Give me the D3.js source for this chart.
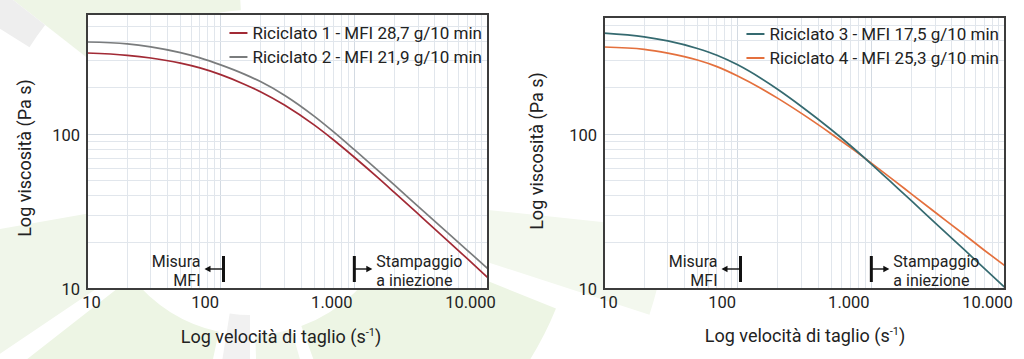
<!DOCTYPE html>
<html><head><meta charset="utf-8">
<script src="https://cdn.jsdelivr.net/npm/d3@7"></script>
<style>
html,body{margin:0;padding:0;background:#fff;}
svg{display:block;font-family:Roboto,"Liberation Sans",Arial,sans-serif;}
</style></head><body>
<svg id="c" width="1024" height="359"></svg>
<script>
// ---- data ----
const shearRates = [10,20,30,50,70,100,150,200,300,500,700,1000,1500,2000,3000,5000,7000,10000];
const riciclato1 = [335.7,324.3,311.5,288.5,268.8,243.2,211.1,188.1,154.9,115.1,91.9,71.1,52.5,42.0,30.6,20.5,15.7,11.8];
const riciclato2 = [395.4,384.6,367.8,337.3,312.2,281.4,245.2,218.5,179.2,131.2,103.7,79.6,58.5,46.9,34.2,23.05,17.8,13.5];
const riciclato3 = [448.7,424.6,399.5,357.0,322.8,279.9,228.5,194.0,150.8,107.1,84.1,64.1,46.5,37.0,26.7,17.8,13.6,10.2];
const riciclato4 = [364.8,352.4,333.0,300.6,272.6,237.2,197.0,170.0,136.0,100.6,81.7,64.9,49.7,41.0,31.3,22.3,17.8,14.1];
const seriesNames = ["Riciclato 1 - MFI 28,7 g/10 min","Riciclato 2 - MFI 21,9 g/10 min",
                     "Riciclato 3 - MFI 17,5 g/10 min","Riciclato 4 - MFI 25,3 g/10 min"];
const xTickValues = [10,100,1000,10000];
const xTickLabels = ["10","100","1.000","10.000"];
const yTickValues = [10,100];
const yTickLabels = ["10","100"];
const xDomain = [10,10000];
const mfiLimit = 105;
const injectionStart = 1000;
const xTitle = "Log velocità di taglio (s";
const xTitleSup = "-1";
const yTitle = "Log viscosità (Pa s)";

// ---- layout ----
const svg = d3.select("#c");
const labelShift = [4,-16,-23,-18];

// watermark
const wm = svg.append("g");
const arc = d3.arc();
const wedges = [
  {c:[250,185], r0:175, r1:300, a0:-52, a1:-3, f:"#eef5e6"},
  {c:[250,185], r0:260, r1:330, a0:-58, a1:-52, f:"#eeeeee"},
  {c:[250,185], r0:150, r1:330, a0:-168, a1:-128, f:"#edf5e4"},
  {c:[250,185], r0:150, r1:330, a0:-124, a1:-100, f:"#f0f6ea"},
  {c:[250,185], r0:130, r1:300, a0:-180, a1:-171, f:"#f1f1f1"},
  {c:[250,185], r0:150, r1:330, a0:112, a1:160, f:"#edf5e4"},
  {c:[250,185], r0:150, r1:330, a0:164, a1:178, f:"#f0f6ea"},
  {c:[250,185], r0:200, r1:420, a0:96, a1:108, f:"#f3f8ee"}
];
wedges.forEach(w=>{
  wm.append("path")
    .attr("transform",`translate(${w.c[0]},${w.c[1]})`)
    .attr("d",arc({innerRadius:w.r0,outerRadius:w.r1,startAngle:w.a0*Math.PI/180,endAngle:w.a1*Math.PI/180}))
    .attr("fill",w.f);
});

const panels = [
  {x0:87,x1:488,y0:14,y1:289,yMax:600,
   series:[{name:seriesNames[0],values:riciclato1,color:"#a22a35"},
           {name:seriesNames[1],values:riciclato2,color:"#7a7c7d"}],
   legY:[33,57], yTitleX:25, yTitleY:158, xTitleX:281, xTitleY:343,
   drawOrder:[1,0]},
  {x0:604,x1:1005,y0:17,y1:289,yMax:570,
   series:[{name:seriesNames[2],values:riciclato3,color:"#356a70"},
           {name:seriesNames[3],values:riciclato4,color:"#e4703d"}],
   legY:[34,58], yTitleX:537, yTitleY:151, xTitleX:805, xTitleY:342,
   drawOrder:[1,0]}
];

const gridX = [];
[10,100,1000].forEach(d=>{for(let k=1;k<10;k++) gridX.push(d*k);});
gridX.push(10000);

panels.forEach(p=>{
  const x = d3.scaleLog().domain(xDomain).range([p.x0,p.x1]);
  const y = d3.scaleLog().domain([10,p.yMax]).range([p.y1,p.y0]);
  const gridY = [];
  [10,100].forEach(d=>{for(let k=1;k<10;k++){ if(d*k<=p.yMax) gridY.push(d*k);} });

  const g = svg.append("g");
  g.append("rect").attr("x",p.x0).attr("y",p.y0).attr("width",p.x1-p.x0).attr("height",p.y1-p.y0).attr("fill","#fff");

  // grid
  g.append("g").selectAll("line").data(gridX).join("line")
    .attr("x1",d=>x(d)).attr("x2",d=>x(d)).attr("y1",p.y0).attr("y2",p.y1)
    .attr("stroke",d=>xTickValues.includes(d)?"#d3dae2":"#e1e6ec").attr("stroke-width",1)
    .attr("shape-rendering","crispEdges");
  g.append("g").selectAll("line").data(gridY).join("line")
    .attr("y1",d=>y(d)).attr("y2",d=>y(d)).attr("x1",p.x0).attr("x2",p.x1)
    .attr("stroke",d=>yTickValues.includes(d)?"#d3dae2":"#e1e6ec").attr("stroke-width",1)
    .attr("shape-rendering","crispEdges");

  // curves
  const line = d3.line().x((d,i)=>x(shearRates[i])).y(d=>y(d)).curve(d3.curveMonotoneX);
  p.drawOrder.forEach(si=>{
    const s = p.series[si];
    g.append("path").attr("d",line(s.values)).attr("fill","none")
      .attr("stroke",s.color).attr("stroke-width",1.7);
  });

  // frame
  g.append("rect").attr("x",p.x0).attr("y",p.y0).attr("width",p.x1-p.x0).attr("height",p.y1-p.y0)
    .attr("fill","none").attr("stroke","#3c3c3c").attr("stroke-width",2);

  // x axis
  const xa = g.append("g").attr("transform",`translate(0,${p.y1})`)
    .call(d3.axisBottom(x).tickValues(xTickValues).tickFormat((d,i)=>xTickLabels[i]).tickSize(0));
  xa.select(".domain").remove();
  xa.selectAll("text").attr("y",19).attr("dy",0)
    .attr("dx",(d,i)=>labelShift[i])
    .attr("font-family","Roboto").attr("font-size",16.5).attr("fill","#222");

  // y axis
  const ya = g.append("g").attr("transform",`translate(${p.x0},0)`)
    .call(d3.axisLeft(y).tickValues(yTickValues).tickFormat((d,i)=>yTickLabels[i]).tickSize(0));
  ya.select(".domain").remove();
  ya.selectAll("text").attr("x",-7).attr("dy","0.36em")
    .attr("font-family","Roboto").attr("font-size",16.5).attr("fill","#222");

  // titles
  const xt = g.append("text").attr("x",p.xTitleX).attr("y",p.xTitleY).attr("text-anchor","middle")
    .attr("font-size",18).attr("fill","#222").text(xTitle);
  xt.append("tspan").attr("font-size",11).attr("dy",-7).text(xTitleSup);
  xt.append("tspan").attr("dy",7).text(")");
  g.append("text").attr("transform",`translate(${p.yTitleX},${p.yTitleY}) rotate(-90)`)
    .attr("text-anchor","middle").attr("dy","0.35em").attr("font-size",18).attr("fill","#222").text(yTitle);

  // legend
  p.series.forEach((s,i)=>{
    const t = g.append("text").attr("x",p.x1-6).attr("y",p.legY[i]+6).attr("text-anchor","end")
      .attr("font-size",17).attr("fill","#222").text(s.name);
    const w = t.node().getComputedTextLength();
    const tx = p.x1-6-w;
    g.append("line").attr("x1",tx-23).attr("x2",tx-5).attr("y1",p.legY[i]).attr("y2",p.legY[i])
      .attr("stroke",s.color).attr("stroke-width",2);
  });

  // annotations
  const bm = x(mfiLimit), bi = x(injectionStart);
  const by0 = 256, by1 = 282, ay = 269;
  const ann = g.append("g").attr("fill","#111").attr("stroke","#111");
  ann.append("line").attr("x1",bm).attr("x2",bm).attr("y1",by0).attr("y2",by1).attr("stroke-width",3);
  ann.append("line").attr("x1",bm).attr("x2",bm-14).attr("y1",ay).attr("y2",ay).attr("stroke-width",1.4);
  ann.append("path").attr("d",`M${bm-19},${ay} l6,-3.2 v6.4 z`).attr("stroke","none");
  ann.append("line").attr("x1",bi).attr("x2",bi).attr("y1",by0).attr("y2",by1).attr("stroke-width",3);
  ann.append("line").attr("x1",bi).attr("x2",bi+13).attr("y1",ay).attr("y2",ay).attr("stroke-width",1.4);
  ann.append("path").attr("d",`M${bi+18},${ay} l-6,-3.2 v6.4 z`).attr("stroke","none");
  const at = g.append("g").attr("font-size",16).attr("fill","#222");
  at.append("text").attr("x",bm-23).attr("y",267).attr("text-anchor","end").text("Misura");
  at.append("text").attr("x",bm-23).attr("y",286).attr("text-anchor","end").text("MFI");
  at.append("text").attr("x",bi+22).attr("y",267).text("Stampaggio");
  at.append("text").attr("x",bi+22).attr("y",286).text("a iniezione");
});
</script>
</body></html>
